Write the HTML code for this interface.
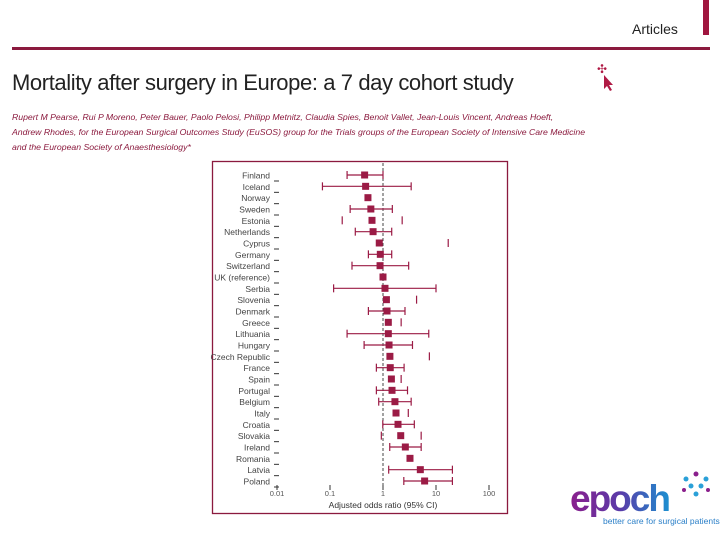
<!DOCTYPE html>
<html><head><meta charset="utf-8">
<style>
body{margin:0;width:720px;height:540px;background:#fff;font-family:"Liberation Sans",sans-serif;overflow:hidden;position:relative}
.abs{position:absolute}
</style></head><body>
<div class="abs" style="left:703px;top:0;width:6px;height:35px;background:#a0163f"></div>
<div class="abs" style="left:632px;top:21px;font-size:14px;color:#222">Articles</div>
<div class="abs" style="left:12px;top:47px;width:698px;height:3px;background:#8b1a3e"></div>
<div class="abs" style="left:12px;top:70px;font-size:22px;color:#222;letter-spacing:-0.4px;white-space:nowrap">Mortality after surgery in Europe: a 7 day cohort study</div>
<div class="abs" style="left:597px;top:62px;color:#b01a45;font-size:12px">✣</div>
<svg class="abs" style="left:603px;top:74px" width="12" height="18"><path d="M1 1 L1 15 L4 12 L7 17 L9 16 L6 11 L10 11 Z" fill="#b01a45"/></svg>
<div class="abs" style="left:12px;top:110px;font-size:8.7px;font-style:italic;color:#8b1a3e;line-height:15px;white-space:nowrap">Rupert M Pearse, Rui P Moreno, Peter Bauer, Paolo Pelosi, Philipp Metnitz, Claudia Spies, Benoit Vallet, Jean-Louis Vincent, Andreas Hoeft,<br>Andrew Rhodes, for the European Surgical Outcomes Study (EuSOS) group for the Trials groups of the European Society of Intensive Care Medicine<br>and the European Society of Anaesthesiology*</div>

<svg class="abs" style="left:0;top:0" width="720" height="540" id="chart"></svg>

<div class="abs" style="left:570px;top:480px;font-size:37px;font-weight:bold;letter-spacing:-2px;line-height:37px;background:linear-gradient(90deg,#8a1f8c,#5a3aa8,#1d8fd0);-webkit-background-clip:text;color:transparent">epoch</div>
<div class="abs" style="left:603px;top:516px;font-size:8.5px;color:#2a7fc8">better care for surgical patients</div>
<svg class="abs" style="left:680px;top:470px" width="32" height="30">
<g fill="#2aa0d8"><circle cx="16" cy="4" r="2.5" fill="#8a1f8c"/><circle cx="6" cy="9" r="2.5"/><circle cx="26" cy="9" r="2.5"/><circle cx="11" cy="16" r="2.5"/><circle cx="21" cy="16" r="2.5"/><circle cx="16" cy="24" r="2.5"/><circle cx="4" cy="20" r="2" fill="#8a1f8c"/><circle cx="28" cy="20" r="2" fill="#8a1f8c"/></g></svg>

<script>
const countries=["Finland","Iceland","Norway","Sweden","Estonia","Netherlands","Cyprus","Germany","Switzerland","UK (reference)","Serbia","Slovenia","Denmark","Greece","Lithuania","Hungary","Czech Republic","France","Spain","Portugal","Belgium","Italy","Croatia","Slovakia","Ireland","Romania","Latvia","Poland"];
const oddsRatio=[0.45,0.47,0.52,0.59,0.62,0.65,0.85,0.89,0.88,1.0,1.09,1.16,1.19,1.26,1.26,1.3,1.35,1.37,1.44,1.48,1.68,1.76,1.92,2.16,2.64,3.23,5.06,6.1];
const ciLow=[0.21,0.072,null,0.24,0.17,0.30,null,0.53,0.26,null,0.117,null,0.53,null,0.21,0.44,null,0.75,null,0.75,0.83,null,0.99,0.93,1.34,null,1.28,2.47];
const ciHigh=[1.0,3.4,null,1.5,2.3,1.46,17,1.46,3.05,null,10,4.3,2.6,2.2,7.3,3.6,7.5,2.5,2.2,2.9,3.4,3.0,3.9,5.25,5.25,null,20.4,20.4];
const capsOnly=[false,false,false,false,true,false,true,false,false,false,false,true,false,true,false,false,true,false,true,false,false,true,false,true,false,false,false,false];
const tickValues=[0.01,0.1,1,10,100];
const tickLabels=["0.01","0.1","1","10","100"];

const NS="http://www.w3.org/2000/svg";
const svg=document.getElementById('chart');
const x0=383,perDecade=53,y0=175,rowH=(481-175)/27;
const xs=v=>x0+Math.log10(v)*perDecade;
const ys=i=>y0+i*rowH;
const col="#9b1b45";
function mk(t,a){const e=document.createElementNS(NS,t);for(const k in a)e.setAttribute(k,a[k]);svg.appendChild(e);return e;}

let f=mk('rect',{x:212.5,y:161.5,width:295,height:352,fill:'none',stroke:'#8b1a3e','stroke-width':1.3});


let ref=mk('line',{x1:xs(1),x2:xs(1),y1:163,y2:488,stroke:'#444','stroke-dasharray':'3,2','stroke-width':1});



countries.forEach((c,i)=>{
  const y=ys(i);
  const t=mk('text',{x:270,y:y+3.5,'text-anchor':'end','font-size':8.5,fill:'#444','font-family':'Liberation Sans, sans-serif'});
  t.textContent=c;
  
  
  const d=mk('line',{x1:274,x2:279,y1:y+6,y2:y+6,stroke:'#333','stroke-width':1});
  
  
  if(!capsOnly[i]&&ciLow[i]!=null&&ciHigh[i]!=null){
    const l=mk('line',{x1:xs(ciLow[i]),x2:xs(ciHigh[i]),y1:y,y2:y,stroke:col,'stroke-width':1.2});
    
    
  }
  [ciLow[i],ciHigh[i]].forEach(v=>{ if(v==null)return;
    const cp=mk('line',{x1:xs(v),x2:xs(v),y1:y-4,y2:y+4,stroke:col,'stroke-width':1.2});
    
    
  });
  const m=mk('rect',{x:xs(oddsRatio[i])-3.5,y:y-3.5,width:7,height:7,fill:col});
  
  
});
tickValues.forEach((v,i)=>{
  const tk=mk('line',{x1:xs(v),x2:xs(v),y1:485,y2:490,stroke:'#333','stroke-width':1});
  
  
  const t=mk('text',{x:xs(v),y:496,'text-anchor':'middle','font-size':7.5,fill:'#555','font-family':'Liberation Sans, sans-serif'});
  t.textContent=tickLabels[i];
  
  
});
const at=mk('text',{x:x0,y:508,'text-anchor':'middle','font-size':8.5,fill:'#333','font-family':'Liberation Sans, sans-serif'});
at.textContent="Adjusted odds ratio (95% CI)";


</script>
</body></html>
